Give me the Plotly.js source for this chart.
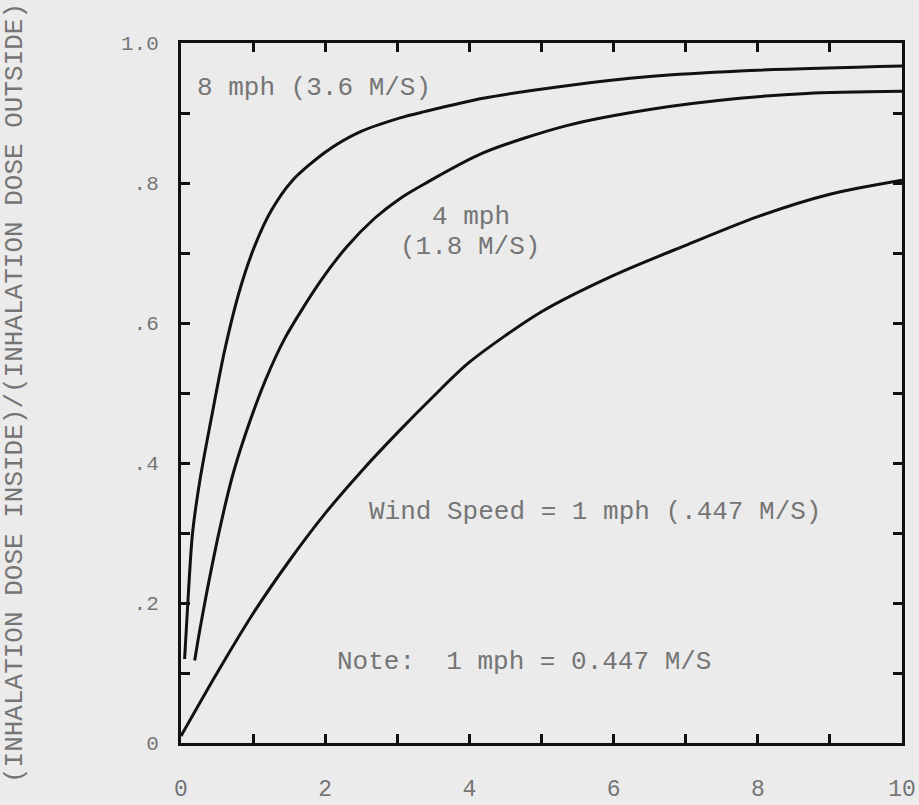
<!DOCTYPE html>
<html>
<head>
<meta charset="utf-8">
<script src="https://cdn.plot.ly/plotly-3.0.1.min.js"></script>
<style>html,body{margin:0;padding:0;background:#ebebeb;}</style>
</head>
<body>
<div id="chart" style="width:919px;height:805px;"></div>
<script>
// Values
const x8mph = [0.05, 0.10, 0.16, 0.26, 0.43, 0.61, 0.82, 1.03, 1.26, 1.54, 2.0, 2.46, 3.04, 3.38, 4.19, 5.35, 6.5, 7.75, 10];
const y8mph = [0.12, 0.21, 0.30, 0.374, 0.469, 0.563, 0.649, 0.712, 0.762, 0.803, 0.844, 0.872, 0.893, 0.902, 0.921, 0.939, 0.952, 0.960, 0.967];

const x4mph = [0.19, 0.26, 0.37, 0.54, 0.71, 0.89, 1.17, 1.44, 1.93, 2.3, 2.69, 3.04, 3.38, 4.19, 5.35, 6.5, 7.75, 8.68, 10];
const y4mph = [0.118, 0.161, 0.222, 0.307, 0.38, 0.44, 0.518, 0.578, 0.659, 0.709, 0.75, 0.778, 0.799, 0.843, 0.882, 0.905, 0.921, 0.928, 0.931];

const x1mph = [0, 0.5, 1, 1.5, 2, 2.5, 3, 3.5, 4, 5, 6, 7, 8, 9, 10];
const y1mph = [0.01, 0.1, 0.185, 0.26, 0.328, 0.388, 0.443, 0.495, 0.544, 0.616, 0.668, 0.711, 0.752, 0.784, 0.804];

const xTickVals = [0, 1, 2, 3, 4, 5, 6, 7, 8, 9, 10];
const xTickText = ["0", "", "2", "", "4", "", "6", "", "8", "", "10"];
const yTickVals = [0, 0.1, 0.2, 0.3, 0.4, 0.5, 0.6, 0.7, 0.8, 0.9, 1.0];
const yTickText = ["0", "", ".2", "", ".4", "", ".6", "", ".8", "", "1.0"];

const yTitle = "(INHALATION DOSE INSIDE)/(INHALATION DOSE OUTSIDE)";
const labels = [
  {text: "8 mph (3.6 M/S)", x: 0.19, y: 0.936, anchor: "left"},
  {text: "4 mph", x: 4.02, y: 0.751, anchor: "center"},
  {text: "(1.8 M/S)", x: 4.01, y: 0.709, anchor: "center"},
  {text: "Wind Speed = 1 mph (.447 M/S)", x: 2.58, y: 0.33, anchor: "left"},
  {text: "Note:  1 mph = 0.447 M/S", x: 2.14, y: 0.116, anchor: "left"}
];

const FONT = "Liberation Mono, Courier New, monospace";
const TXT = "#757575";
const line = {color: "#111111", width: 3, shape: "spline", smoothing: 0.8};

const traces = [
  {x: x8mph, y: y8mph, name: "8 mph", mode: "lines", line: line},
  {x: x4mph, y: y4mph, name: "4 mph", mode: "lines", line: line},
  {x: x1mph, y: y1mph, name: "1 mph", mode: "lines", line: line}
];

const layout = {
  width: 919, height: 805,
  paper_bgcolor: "#ebebeb", plot_bgcolor: "#ebebeb",
  showlegend: false,
  margin: {l: 181, r: 17, t: 43, b: 62},
  xaxis: {
    range: [0, 10], tickvals: xTickVals, ticktext: xTickText,
    ticks: "inside", ticklen: 9, tickwidth: 3, tickcolor: "#111",
    showline: true, linecolor: "#111", linewidth: 3, mirror: "ticks",
    showgrid: false, zeroline: false,
    tickfont: {family: FONT, size: 23, color: TXT},
    ticklabelstandoff: 22
  },
  yaxis: {
    range: [0, 1.0], tickvals: yTickVals, ticktext: yTickText,
    ticks: "inside", ticklen: 9, tickwidth: 3, tickcolor: "#111",
    showline: true, linecolor: "#111", linewidth: 3, mirror: "ticks",
    showgrid: false, zeroline: false,
    tickfont: {family: FONT, size: 21, color: TXT},
    ticklabelstandoff: 15,
    title: {text: yTitle, font: {family: FONT, size: 26, color: TXT}, standoff: 110}
  },
  annotations: labels.map(l => ({
    text: l.text, x: l.x, y: l.y, xref: "x", yref: "y",
    xanchor: l.anchor, yanchor: "middle", showarrow: false,
    font: {family: FONT, size: 26, color: TXT}
  }))
};

Plotly.newPlot("chart", traces, layout, {displayModeBar: false, staticPlot: true});
</script>
</body>
</html>
